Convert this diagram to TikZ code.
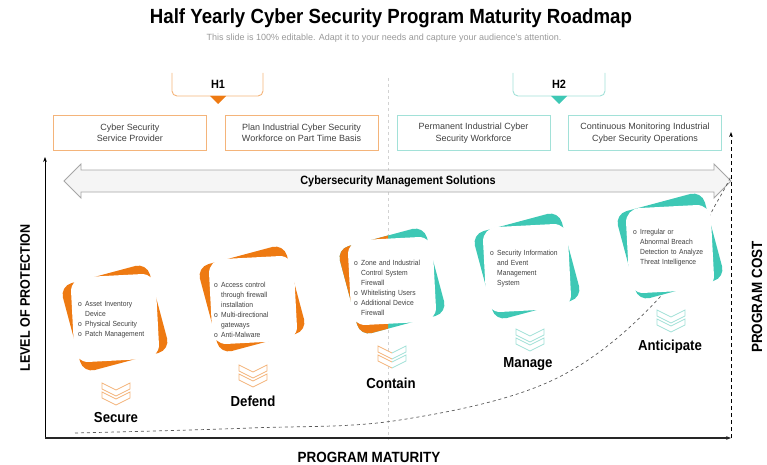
\documentclass[tikz,border=0pt]{standalone}
\usepackage{fontspec}
\setmainfont{Liberation Sans}
\newfontfamily\condfont[FakeStretch=0.91]{Liberation Sans}
\usetikzlibrary{arrows.meta}

\definecolor{roadorange}{HTML}{EE7A12}
\definecolor{roadteal}{HTML}{3EC8B5}
\definecolor{lightorange}{HTML}{F4B47A}
\definecolor{lightteal}{HTML}{A2E1D8}
\definecolor{textgrey}{HTML}{404040}

\tikzset{
  topbox/.style={draw, line width=0.9pt, minimum width=153pt, minimum height=35pt,
    align=center, text=textgrey, font=\fontsize{9}{11.5}\selectfont},
  backcard/.style={minimum size=90pt, rounded corners=12pt, inner sep=0pt},
  frontcard/.style={fill=white, minimum size=85pt, rounded corners=14pt, inner sep=0pt},
  cardtext/.style={anchor=north west, align=left, inner sep=0pt, text=textgrey,
    font=\condfont\fontsize{7.4}{10}\selectfont},
  stagelabel/.style={font=\condfont\bfseries\fontsize{14.5}{16}\selectfont},
  axislabel/.style={font=\condfont\bfseries\fontsize{14.8}{16}\selectfont},
  chevrons/.pic={
    \draw[line width=0.8pt, fill=white] (-14,-11) -- (0,-4) -- (14,-11) -- (14,-5) -- (0,2) -- (-14,-5) -- cycle;
    \draw[line width=0.8pt, fill=white] (-14,-2) -- (0,5) -- (14,-2) -- (14,4) -- (0,11) -- (-14,4) -- cycle;
  },
}
\newcommand\bul[1]{\par\hangindent=7pt\hangafter=1\noindent\makebox[7pt][l]{o}#1\par}

\begin{document}
\begin{tikzpicture}[x=1pt, y=-1pt]
  \useasboundingbox (0,0) rectangle (767,465);

  % title
  \node[font=\condfont\bfseries\fontsize{20.5}{24}\selectfont] (title) at (391,18)
    {Half Yearly Cyber Security Program Maturity Roadmap};
  \node[text=gray!80, font=\fontsize{9}{11}\selectfont] (subtitle) at (384,38)
    {This slide is 100\% editable. Adapt it to your needs and capture your audience's attention.};

  % halves
  \draw[gray!35, dashed] (388,78) -- (388,440);
  \draw[lightorange, line width=0.9pt, rounded corners=5pt] (172,73) |- (263,96) -- (263,73);
  \fill[roadorange] (210,96) -- (226,96) -- (218,104) -- cycle;
  \node[font=\condfont\bfseries\fontsize{12}{14}\selectfont] (h1) at (218,84) {H1};
  \draw[lightteal, line width=0.9pt, rounded corners=5pt] (513,73) |- (605,96) -- (605,73);
  \fill[roadteal] (551,96) -- (567,96) -- (559,104) -- cycle;
  \node[font=\condfont\bfseries\fontsize{12}{14}\selectfont] (h2) at (559,84) {H2};

  \node[topbox, draw=lightorange] (csp) at (130,133) {Cyber Security\\Service Provider};
  \node[topbox, draw=lightorange] (plan) at (301.5,133) {Plan Industrial Cyber Security\\Workforce on Part Time Basis};
  \node[topbox, draw=lightteal] (perm) at (473.5,133) {Permanent Industrial Cyber\\Security Workforce};
  \node[topbox, draw=lightteal] (cont) at (645,133) {Continuous Monitoring Industrial\\Cyber Security Operations};

  % management band
  \draw[gray!70, fill=gray!8, line width=0.9pt] (64,181) -- (81,164) -- (81,170) -- (714,170) -- (714,164)
    -- (731,181) -- (714,198) -- (714,192) -- (81,192) -- (81,198) -- cycle;
  \node[font=\condfont\bfseries\fontsize{12}{14}\selectfont] (band) at (398,181) {Cybersecurity Management Solutions};

  % axes
  \coordinate (orig) at (45,438);
  \coordinate (ytop) at (45,157);
  \coordinate (xend) at (731,438);
  \coordinate (ctop) at (731,132);
  \draw[dashed, gray!70!black, line width=0.7pt]
    plot[smooth, tension=0.6] coordinates {(75,433) (250,428) (400,420) (553,380) (660,297) (717,202) (731,176)};
  \draw[line width=0.8pt, -{Stealth[length=5pt]}] (orig) -- (ytop);
  \draw[gray!30!black, line width=1.4pt, -{Stealth[length=5pt]}] (orig) -- (xend);
  \draw[line width=1pt, dash pattern=on 4pt off 3pt, -{Stealth[length=5pt]}] (xend) -- (ctop);
  \node[axislabel, rotate=90, font=\condfont\bfseries\fontsize{13.8}{16}\selectfont] (lop) at (25,298) {LEVEL OF PROTECTION};
  \node[axislabel] (pm) at (369,457) {PROGRAM MATURITY};
  \node[axislabel, rotate=90] (pc) at (757,297) {PROGRAM COST};

  % secure
  \node[backcard, fill=roadorange, rotate=15] (secback) at (115,318) {};
  \node[frontcard, rotate=3] (secfront) at (115,318) {};
  \node[cardtext, text width=78pt] (sectext) at (78,296)
    {\bul{Asset Inventory\newline Device}\bul{Physical Security}\bul{Patch Management}};
  \pic[draw=lightorange] (secchev) at (116,394) {chevrons};
  \node[stagelabel] (secure) at (116,418) {Secure};

  % defend
  \node[backcard, fill=roadorange, rotate=15] (defback) at (252,299) {};
  \node[frontcard, rotate=3] (deffront) at (253,300) {};
  \node[cardtext, text width=70pt] (deftext) at (214,277)
    {\bul{Access control\newline through firewall\newline installation}\bul{Multi-directional\newline gateways}\bul{Anti-Malware}};
  \pic[draw=lightorange] (defchev) at (253,376) {chevrons};
  \node[stagelabel] (defend) at (253,401) {Defend};

  % contain
  \node[backcard, fill=roadteal, rotate=15] (conback) at (392,281) {};
  \begin{scope}
    \clip (320,200) rectangle (388,350);
    \node[backcard, fill=roadorange, rotate=15] (conbackl) at (392,281) {};
  \end{scope}
  \node[frontcard, rotate=3] (confront) at (392,281) {};
  \node[cardtext, text width=75pt] (context) at (354,255)
    {\bul{Zone and Industrial\newline Control System\newline Firewall}\bul{Whitelisting Users}\bul{Additional Device\newline Firewall}};
  \begin{scope}
    \clip (360,330) rectangle (392,380);
    \pic[draw=lightorange] (conchevl) at (392,357) {chevrons};
  \end{scope}
  \begin{scope}
    \clip (392,330) rectangle (420,380);
    \pic[draw=lightteal] (conchevr) at (392,357) {chevrons};
  \end{scope}
  \node[stagelabel] (contain) at (391,383) {Contain};

  % manage
  \node[backcard, fill=roadteal, rotate=15] (manback) at (527,266) {};
  \node[frontcard, rotate=3] (manfront) at (527,268) {};
  \node[cardtext, text width=75pt] (mantext) at (490,245)
    {\bul{Security Information\newline and Event\newline Management\newline System}};
  \pic[draw=lightteal] (manchev) at (530,340) {chevrons};
  \node[stagelabel] (manage) at (528,364) {Manage};

  % anticipate
  \node[backcard, fill=roadteal, rotate=15] (antback) at (670,246) {};
  \node[frontcard, rotate=3] (antfront) at (670,249) {};
  \node[cardtext, text width=78pt] (anttext) at (633,224)
    {\bul{Irregular or\newline Abnormal Breach\newline Detection to Analyze\newline Threat Intelligence}};
  \pic[draw=lightteal] (antchev) at (671,321) {chevrons};
  \node[stagelabel] (anticipate) at (670,347) {Anticipate};
\end{tikzpicture}
\end{document}
